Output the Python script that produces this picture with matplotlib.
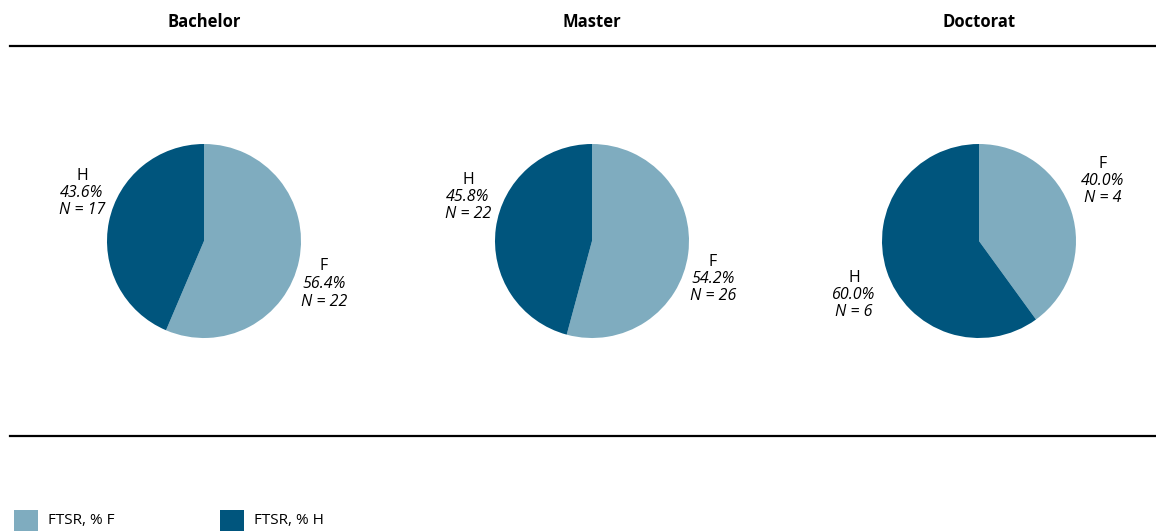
import matplotlib.pyplot as plt
from matplotlib.patches import Rectangle

plt.rcParams['font.family'] = ['Open Sans', 'DejaVu Sans']

# Données
niveaux = ["Bachelor", "Master", "Doctorat"]
pct_f = [56.4, 54.2, 40.0]
pct_h = [43.6, 45.8, 60.0]
n_f = [22, 26, 4]
n_h = [17, 22, 6]

col_f = "#7FACBF"
col_h = "#00557D"

W, H = 1156, 531
fig = plt.figure(figsize=(W / 100, H / 100), dpi=100)
ax = fig.add_axes([0, 0, 1, 1])

centres_x = [204, 592, 979]
cy = H - 241
rayon = 97

# positions des étiquettes (pixels, ligne du milieu) : F et H
pos_lab_f = [(324, 284), (713, 279), (1103, 181)]
pos_lab_h = [(82, 193), (468, 197), (854, 295)]

for i, nom in enumerate(niveaux):
    ax.pie([pct_f[i], pct_h[i]], colors=[col_f, col_h], startangle=90,
           counterclock=False, center=(centres_x[i], cy), radius=rayon,
           wedgeprops=dict(linewidth=0), frame=True)
    ax.text(centres_x[i], H - 22, nom, ha='center', va='center',
            fontsize=12, fontweight='bold')
    for (x, y), lettre, p, n in [(pos_lab_f[i], "F", pct_f[i], n_f[i]),
                                 (pos_lab_h[i], "H", pct_h[i], n_h[i])]:
        ax.text(x, H - y + 17.5, lettre, ha='center', va='center', fontsize=11.5)
        ax.text(x, H - y, f"{p:.1f}%", ha='center', va='center',
                fontsize=11.5, style='italic')
        ax.text(x, H - y - 17.5, f"N = {n}", ha='center', va='center',
                fontsize=11.5, style='italic')

# lignes horizontales
ax.plot([10, W], [H - 46, H - 46], color='black', lw=1.6)
ax.plot([10, W], [H - 436, H - 436], color='black', lw=1.6)

# légende
for x0, col, txt in [(14, col_f, "FTSR, % F"), (220, col_h, "FTSR, % H")]:
    ax.add_patch(Rectangle((x0, H - 531), 24, 21, color=col, lw=0))
    ax.text(x0 + 34, H - 521, txt, ha='left', va='center', fontsize=11)

ax.set_xlim(0, W)
ax.set_ylim(0, H)
ax.set_aspect('auto')
ax.axis('off')

fig.savefig("out.png", dpi=100)
